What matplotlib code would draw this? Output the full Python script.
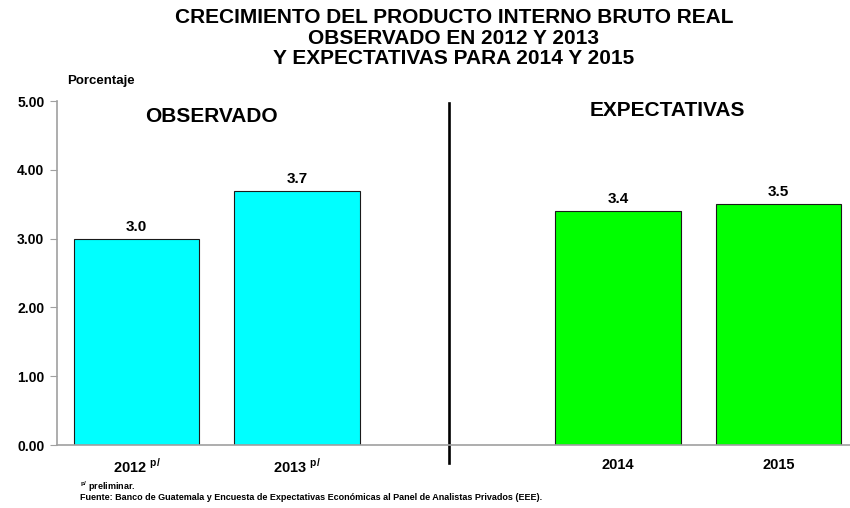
import matplotlib
matplotlib.use("Agg")
import matplotlib.pyplot as plt

plt.rcParams['font.family'] = ['Liberation Sans', 'DejaVu Sans']
plt.rcParams['font.weight'] = 'bold'
plt.rcParams['mathtext.fontset'] = 'custom'
plt.rcParams['mathtext.rm'] = 'Liberation Sans:bold'
plt.rcParams['mathtext.bf'] = 'Liberation Sans:bold'

# Data
years = ['2012', '2013', '2014', '2015']
growth = [3.0, 3.7, 3.4, 3.5]
preliminary = [True, True, False, False]
groups = ['OBSERVADO', 'OBSERVADO', 'EXPECTATIVAS', 'EXPECTATIVAS']
yticks = [0, 1, 2, 3, 4, 5]

colors = {'OBSERVADO': '#00FFFF', 'EXPECTATIVAS': '#00FF00'}

# leave an empty slot between the two groups
pos = [i if g == 'OBSERVADO' else i + 1 for i, g in enumerate(groups)]

fig = plt.figure(figsize=(8.5, 5.08), dpi=100)
ax = fig.add_axes([0.067, 0.124, 0.933, 0.677])

ax.bar(pos, growth, width=0.78, color=[colors[g] for g in groups],
       edgecolor='#1a1a1a', linewidth=0.8)

for x, v in zip(pos, growth):
    ax.text(x, v + 0.07, f"{v:.1f}", ha='center', va='bottom',
            fontsize=11, fontweight='bold')

ax.set_xlim(-0.495, 4.445)
ax.set_ylim(0, 5)
ax.set_yticks(yticks)
ax.set_yticklabels([f"{t:.2f}" for t in yticks], fontsize=10, fontweight='bold')
ax.set_xticks(pos)
ax.set_xticklabels([y + (r" $^{\mathrm{p/}}$" if p else "") for y, p in zip(years, preliminary)],
                   fontsize=10.5, fontweight='bold')
ax.tick_params(axis='x', length=0, pad=9)
ax.tick_params(axis='y', length=5, color='#a0a0a0', pad=4)

for s in ['top', 'right']:
    ax.spines[s].set_visible(False)
for s in ['left', 'bottom']:
    ax.spines[s].set_color('#a0a0a0')
    ax.spines[s].set_linewidth(1.2)

# divider between observed and expected
ax.axvline(1.947, ymin=-0.052, ymax=0.994, color='black', linewidth=1.9, clip_on=False)

ax.text(0.47, 4.78, 'OBSERVADO', ha='center', va='center', fontsize=15, fontweight='bold')
ax.text(3.305, 4.87, 'EXPECTATIVAS', ha='center', va='center', fontsize=15, fontweight='bold')

fig.text(0.534, 0.984, 'CRECIMIENTO DEL PRODUCTO INTERNO BRUTO REAL\nOBSERVADO EN 2012 Y 2013\nY EXPECTATIVAS PARA 2014 Y 2015',
         ha='center', va='top', fontsize=15, fontweight='bold', linespacing=1.1)
fig.text(0.079, 0.84, 'Porcentaje', ha='left', va='center', fontsize=9.5, fontweight='bold')

fig.text(0.094, 0.041, r"$^{\mathrm{p/}}$ preliminar.", ha='left', va='center', fontsize=6.5, fontweight='bold')
fig.text(0.094, 0.021, 'Fuente: Banco de Guatemala y Encuesta de Expectativas Económicas al Panel de Analistas Privados (EEE).',
         ha='left', va='center', fontsize=6.5, fontweight='bold')

fig.savefig('out.png', dpi=100)
